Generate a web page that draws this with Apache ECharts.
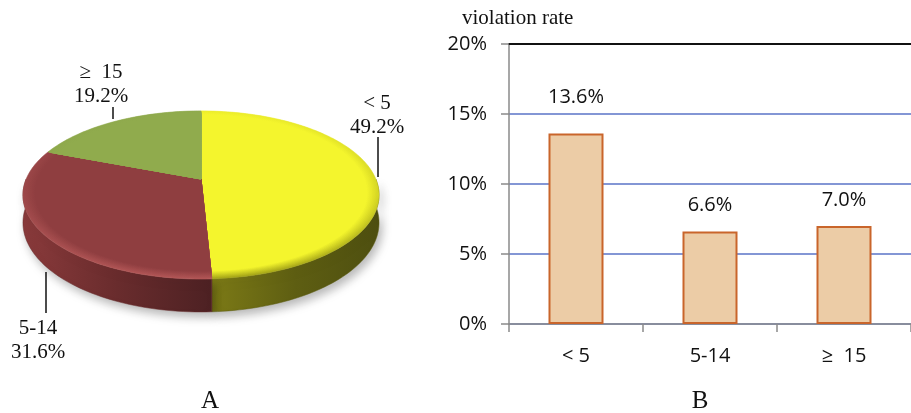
<!DOCTYPE html>
<html>
<head>
<meta charset="utf-8">
<script src="https://cdn.jsdelivr.net/npm/echarts@6/dist/echarts.min.js"></script>
<style>
  html, body { margin: 0; padding: 0; background: #ffffff; }
  #chart { width: 911px; height: 413px; }
</style>
</head>
<body>
<div id="chart"></div>
<script>
// Panel A: share of each group (%)
const pieCategories = ['< 5', '5-14', '≥  15'];
const pieShares = [49.2, 31.6, 19.2];

// Panel B: violation rate of each group (%)
const barCategories = ['< 5', '5-14', '≥  15'];
const violationRates = [13.6, 6.6, 7.0];
const rateTicks = [0, 5, 10, 15, 20];

// ---- styling for the tilted pie ----
const sliceTop = ['#f4f52d', '#8f3e40', '#90ab4d'];
const sliceRim = ['#a2a216', '#b25656', '#88a247'];
const sliceSide = [
  ['#7c7a16', '#5e5e12', '#4e4f10'],
  ['#8a3a3b', '#692c2d', '#4d2123']
];
// perspective disk: apex position, half axes, foreshortening and thickness
const DISK = { cx: 201, cy: 179, A: 174.8, B: 81, e: 0.19, H: 26.7 };
// label anchors (text block centre) and leader lines for the pie
const pieLabelSpots = [
  { x: 377, y: 115, line: [378, 137, 378, 177] },
  { x: 38, y: 340, line: [46, 272, 46, 313] },
  { x: 101, y: 84, line: [113, 107, 113, 119] }
];
// gap between a bar top and its value label
const barLabelGap = [26, 16, 16];

function project(U, V, drop) {
  const d = 1 - DISK.e * V;
  return [DISK.cx + DISK.A * U / d, DISK.cy + (DISK.B * V + drop * DISK.H) / d];
}
function arc(a1, a2, r, drop) {
  const pts = [];
  const n = Math.max(2, Math.ceil(Math.abs(a2 - a1) / 1.5));
  for (let j = 0; j <= n; j++) {
    const a = (a1 + (a2 - a1) * j / n) * Math.PI / 180;
    pts.push(project(r * Math.sin(a), -r * Math.cos(a), drop));
  }
  return pts;
}
function sliceRange(i) {
  const total = pieShares.reduce((s, v) => s + v, 0);
  let before = 0;
  for (let k = 0; k < i; k++) before += pieShares[k];
  return [before / total * 360, (before + pieShares[i]) / total * 360];
}
function hexToRgb(h) {
  const n = parseInt(h.slice(1), 16);
  return [(n >> 16) & 255, (n >> 8) & 255, n & 255];
}
function mix(c1, c2, w) {
  const a = hexToRgb(c1), b = hexToRgb(c2);
  const c = a.map((x, i) => Math.round(x + (b[i] - x) * w));
  return 'rgb(' + c.join(',') + ')';
}

// rim of the disk (only the part facing the viewer)
function renderSide(params) {
  const i = params.dataIndex;
  if (i >= sliceSide.length) return;
  const [s, t] = sliceRange(i);
  const a1 = Math.max(s, 90), a2 = Math.min(t, 270);
  if (a2 <= a1) return;
  const pts = arc(a1, a2, 1, 0).concat(arc(a2, a1, 1, 1));
  const stops = sliceSide[i];
  return {
    type: 'polygon',
    shape: { points: pts },
    style: {
      fill: {
        type: 'linear', x: 0, y: 0, x2: 1, y2: 0,
        colorStops: [
          { offset: 0, color: stops[0] },
          { offset: 0.5, color: stops[1] },
          { offset: 1, color: stops[2] }
        ]
      },
      stroke: stops[1], lineWidth: 0.5,
      shadowColor: 'rgba(0,0,0,0.28)', shadowBlur: 10, shadowOffsetX: 3, shadowOffsetY: 5
    }
  };
}

// upper face of each slice, with a soft bevel toward the front edge
function renderTop(params) {
  const i = params.dataIndex;
  const [s, t] = sliceRange(i);
  const apex = project(0, 0, 0);
  const steps = 8, dr = 0.008;
  const children = [];
  const yTop = DISK.cy - DISK.B / (1 + DISK.e);
  const yBot = DISK.cy + DISK.B / (1 - DISK.e);
  for (let k = 0; k <= steps; k++) {
    const r = 1 - k * dr;
    const w = 1 - k / steps;
    const grad = {
      type: 'linear', x: 0, y: yTop, x2: 0, y2: yBot, global: true,
      colorStops: [
        { offset: 0, color: mix(sliceTop[i], sliceRim[i], w * 0.1) },
        { offset: 0.5, color: mix(sliceTop[i], sliceRim[i], w * 0.4) },
        { offset: 1, color: mix(sliceTop[i], sliceRim[i], w) }
      ]
    };
    children.push({
      type: 'polygon',
      shape: { points: [apex].concat(arc(s, t, r, 0)) },
      style: { fill: grad, stroke: grad, lineWidth: 0.6 }
    });
  }
  return { type: 'group', children };
}

const serif = '"Liberation Serif", "Times New Roman", serif';
const graphics = [];
pieCategories.forEach((name, i) => {
  const spot = pieLabelSpots[i];
  graphics.push({
    type: 'text', x: spot.x, y: spot.y, silent: true,
    style: {
      text: name + '\n' + pieShares[i].toFixed(1) + '%',
      font: '21px ' + serif,
      fill: '#111', align: 'center', verticalAlign: 'middle', lineHeight: 24
    }
  });
  graphics.push({
    type: 'line', silent: true,
    shape: { x1: spot.line[0], y1: spot.line[1], x2: spot.line[2], y2: spot.line[3] },
    style: { stroke: '#111', lineWidth: 1.5 }
  });
});
graphics.push(
  { type: 'text', x: 462, y: 18, silent: true,
    style: { text: 'violation rate', font: '21px ' + serif, fill: '#111', verticalAlign: 'middle' } },
  { type: 'text', x: 210, y: 401, silent: true,
    style: { text: 'A', font: '25px ' + serif, fill: '#111', align: 'center', verticalAlign: 'middle' } },
  { type: 'text', x: 700, y: 401, silent: true,
    style: { text: 'B', font: '25px ' + serif, fill: '#111', align: 'center', verticalAlign: 'middle' } }
);

const sans = '"Open Sans", "Noto Sans", sans-serif';
const chart = echarts.init(document.getElementById('chart'), null, { renderer: 'canvas' });
chart.setOption({
  animation: false,
  backgroundColor: '#ffffff',
  graphic: graphics,
  grid: { left: 509, top: 44, width: 408, height: 280 },
  xAxis: [
    {
      type: 'category', data: barCategories, position: 'bottom',
      axisLine: { lineStyle: { color: '#8a8a8a', width: 1.5 } },
      axisTick: { show: true, length: 8, lineStyle: { color: '#8a8a8a', width: 1.5 } },
      axisLabel: { margin: 22, fontFamily: sans, fontSize: 20, color: '#111' }
    },
    {
      type: 'category', data: barCategories, position: 'top',
      axisLine: { lineStyle: { color: '#111', width: 2 } },
      axisTick: { show: false }, axisLabel: { show: false }
    }
  ],
  yAxis: {
    type: 'value',
    min: rateTicks[0], max: rateTicks[rateTicks.length - 1], interval: rateTicks[1] - rateTicks[0],
    axisLine: { show: true, lineStyle: { color: '#8a8a8a', width: 1.5 } },
    axisTick: { show: true, length: 8, lineStyle: { color: '#8a8a8a', width: 1.5 } },
    axisLabel: { margin: 22, fontFamily: sans, fontSize: 20, color: '#111', formatter: '{value}%' },
    splitLine: { show: true, lineStyle: { color: '#5a73c7', width: 1.5 } }
  },
  series: [
    {
      type: 'bar', xAxisIndex: 0,
      data: violationRates.map((v, i) => ({ value: v, label: { distance: barLabelGap[i] } })),
      barWidth: 55,
      itemStyle: { color: '#ecccA6', borderColor: '#c9652b', borderWidth: 2 },
      label: {
        show: true, position: 'top', fontFamily: sans, fontSize: 20, color: '#111',
        formatter: p => p.value.toFixed(1) + '%'
      },
      z: 3
    },
    { type: 'custom', coordinateSystem: 'none', data: pieShares, renderItem: renderSide, z: 1, silent: true },
    { type: 'custom', coordinateSystem: 'none', data: pieShares, renderItem: renderTop, z: 2, silent: true }
  ]
});
</script>
</body>
</html>
